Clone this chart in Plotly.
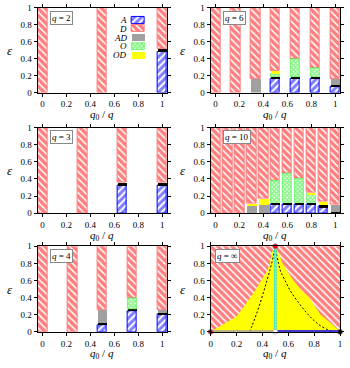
import plotly.graph_objects as go

# --- data: each bar is a stack of (phase, upper edge) from eps = 0 upwards ---
# phases: A, D, AD, O, OD; "K" is the thin black boundary layer
Q2_X = [0, 0.5, 1]
Q2_STACKS = [
    [("D", 1.0)],
    [("D", 1.0)],
    [("A", 0.475), ("K", 0.52), ("D", 1.0)],
]

Q6_X = [0, 1 / 6, 2 / 6, 3 / 6, 4 / 6, 5 / 6, 1]
Q6_STACKS = [
    [("D", 1.0)],
    [("D", 1.0)],
    [("AD", 0.16), ("D", 1.0)],
    [("A", 0.165), ("K", 0.18), ("O", 0.22), ("OD", 0.25), ("D", 1.0)],
    [("A", 0.165), ("K", 0.18), ("O", 0.40), ("D", 1.0)],
    [("A", 0.165), ("K", 0.18), ("O", 0.287), ("D", 1.0)],
    [("A", 0.07), ("K", 0.09), ("AD", 0.165), ("D", 1.0)],
]

Q3_X = [0, 1 / 3, 2 / 3, 1]
Q3_STACKS = [
    [("D", 1.0)],
    [("D", 1.0)],
    [("A", 0.32), ("K", 0.355), ("D", 1.0)],
    [("A", 0.32), ("K", 0.355), ("D", 1.0)],
]

Q10_X = [0, 0.1, 0.2, 0.3, 0.4, 0.5, 0.6, 0.7, 0.8, 0.9, 1.0]
Q10_STACKS = [
    [("D", 1.0)],
    [("D", 1.0)],
    [("D", 1.0)],
    [("AD", 0.09), ("OD", 0.115), ("D", 1.0)],
    [("AD", 0.10), ("OD", 0.172), ("D", 1.0)],
    [("A", 0.095), ("K", 0.12), ("O", 0.385), ("D", 1.0)],
    [("A", 0.095), ("K", 0.12), ("O", 0.46), ("D", 1.0)],
    [("A", 0.095), ("K", 0.12), ("O", 0.405), ("D", 1.0)],
    [("A", 0.095), ("K", 0.12), ("O", 0.227), ("OD", 0.24), ("D", 1.0)],
    [("A", 0.075), ("K", 0.095), ("OD", 0.135), ("D", 1.0)],
    [("K", 0.015), ("AD", 0.10), ("D", 1.0)],
]

Q4_X = [0, 0.25, 0.5, 0.75, 1]
Q4_STACKS = [
    [("D", 1.0)],
    [("D", 1.0)],
    [("A", 0.08), ("K", 0.10), ("AD", 0.25), ("D", 1.0)],
    [("A", 0.245), ("K", 0.265), ("O", 0.39), ("D", 1.0)],
    [("A", 0.20), ("K", 0.22), ("AD", 0.25), ("D", 1.0)],
]

# q = infinity: boundary of the OD (yellow) region, dashed curves, edges
OD_LEFT_X = [0.0, 0.1, 0.2, 0.26, 0.31, 0.343, 0.39, 0.437, 0.458, 0.475, 0.5]
OD_LEFT_Y = [0.0, 0.085, 0.18, 0.3, 0.41, 0.48, 0.6, 0.71, 0.8, 0.94, 1.0]
OD_RIGHT_X = [0.5, 0.52, 0.55, 0.59, 0.64, 0.705, 0.756, 0.8, 0.85, 0.93, 1.0]
OD_RIGHT_Y = [1.0, 0.94, 0.82, 0.71, 0.6, 0.48, 0.41, 0.31, 0.2, 0.1, 0.0]
DASH_LEFT_X = [0.3, 0.32, 0.345, 0.375, 0.412, 0.435, 0.456, 0.475, 0.49, 0.5]
DASH_LEFT_Y = [0.0, 0.07, 0.17, 0.3, 0.48, 0.6, 0.71, 0.82, 0.93, 1.0]
DASH_RIGHT_X = [0.5, 0.51, 0.525, 0.54, 0.575, 0.616, 0.68, 0.743, 0.8, 0.86, 0.92, 0.95]
DASH_RIGHT_Y = [1.0, 0.9, 0.8, 0.71, 0.6, 0.48, 0.34, 0.22, 0.13, 0.06, 0.015, 0.0]
O_LINE_X = 0.5
AD_EDGE_X = [0.0, 0.5]
A_EDGE_X = [0.5, 1.0]
POINTS_X = [0.0, 0.5, 0.5, 1.0]
POINTS_Y = [0.0, 1.0, 0.0, 0.0]
POINTS_C = ["#ff0000", "#ff0000", "white", "black"]

LEGEND_KINDS = ["A", "D", "AD", "O", "OD"]

FONT = "Liberation Serif"
RED = "#ff0000"
BLUE = "#0000ff"

D_PATTERN = dict(shape="\\", fgcolor=RED, bgcolor="white", size=5, solidity=0.7)

STYLE = {
    "D": dict(color="white", line=dict(color="#ff7a7a", width=1), pattern=D_PATTERN),
    "A": dict(color="white", line=dict(color=BLUE, width=1),
              pattern=dict(shape="/", fgcolor=BLUE, bgcolor="white", size=5, solidity=0.6)),
    "AD": dict(color="#a0a0a0", line=dict(width=0)),
    "O": dict(color="white", line=dict(color="#22ee22", width=0.5),
              pattern=dict(shape="x", fgcolor="#11ee11", bgcolor="white", size=3, solidity=0.75)),
    "OD": dict(color="#ffff00", line=dict(width=0)),
    "K": dict(color="black", line=dict(width=0)),
}

# panel layout (paper coords)
COLS = [(0.103, 0.477), (0.603, 0.977)]
ROWS = [(0.7554, 0.9918), (0.4185, 0.6576), (0.0870, 0.3261)]
XTITLE_Y = [1 - 113 / 368, 1 - 237 / 368, 1 - 359 / 368]

fig = go.Figure()

panels = [
    (1, Q2_X, Q2_STACKS),
    (2, Q6_X, Q6_STACKS),
    (3, Q3_X, Q3_STACKS),
    (4, Q10_X, Q10_STACKS),
    (5, Q4_X, Q4_STACKS),
]

BAR_W = 0.08


def ax(n):
    return ("x" if n == 1 else f"x{n}"), ("y" if n == 1 else f"y{n}")


for n, xs, stacks in panels:
    xa, ya = ax(n)
    for kind in ["D", "A", "K", "AD", "O", "OD"]:
        px, pb, ph = [], [], []
        for x, stack in zip(xs, stacks):
            lo = 0.0
            for k, top in stack:
                if k == kind:
                    px.append(x)
                    pb.append(lo)
                    ph.append(top - lo)
                lo = top
        if px:
            fig.add_trace(go.Bar(x=px, y=ph, base=pb, width=BAR_W, marker=STYLE[kind],
                                 xaxis=xa, yaxis=ya, showlegend=False, hoverinfo="skip"))

# hand-made legend inside the q = 2 panel
LEG_X = 0.797
LEG_W = 0.106
LEG_TOP = 0.897
LEG_STEP = 0.103
LEG_H = 0.082
for i, kind in enumerate(LEGEND_KINDS):
    top = LEG_TOP - i * LEG_STEP
    fig.add_trace(go.Bar(x=[LEG_X], y=[LEG_H], base=[top - LEG_H], width=LEG_W,
                         marker=STYLE[kind], xaxis="x", yaxis="y",
                         showlegend=False, hoverinfo="skip"))
    fig.add_annotation(x=LEG_X - LEG_W / 2 - 0.025, y=top - LEG_H / 2, xref="x", yref="y",
                       text=f"<i>{kind}</i>", showarrow=False, xanchor="right", yanchor="middle",
                       font=dict(family=FONT, size=9, color="black"))

# q = infinity panel
xa, ya = ax(6)
fig.add_trace(go.Bar(x=[0.5], y=[1.0], base=[0.0], width=1.0,
                     marker=dict(color="white", line=dict(width=0), pattern=D_PATTERN),
                     xaxis=xa, yaxis=ya, showlegend=False, hoverinfo="skip"))
fig.add_trace(go.Scatter(x=OD_LEFT_X + OD_RIGHT_X[1:], y=OD_LEFT_Y + OD_RIGHT_Y[1:],
                         fill="toself", fillcolor="#ffff00", mode="lines",
                         line=dict(width=0, color="#ffff00"),
                         xaxis=xa, yaxis=ya, showlegend=False, hoverinfo="skip"))
for dx, dy in [(DASH_LEFT_X, DASH_LEFT_Y), (DASH_RIGHT_X, DASH_RIGHT_Y)]:
    fig.add_trace(go.Scatter(x=dx, y=dy, mode="lines",
                             line=dict(color="black", width=1, dash="2px,2px", shape="spline"),
                             xaxis=xa, yaxis=ya, showlegend=False, hoverinfo="skip"))
fig.add_trace(go.Scatter(x=[O_LINE_X, O_LINE_X], y=[0, 1], mode="lines",
                         line=dict(color="#33dddd", width=2.5),
                         xaxis=xa, yaxis=ya, showlegend=False, hoverinfo="skip"))
fig.add_trace(go.Scatter(x=[O_LINE_X, O_LINE_X], y=[0, 1], mode="lines",
                         line=dict(color="#99ff99", width=1.2, dash="2px,1px"),
                         xaxis=xa, yaxis=ya, showlegend=False, hoverinfo="skip"))
fig.add_trace(go.Scatter(x=AD_EDGE_X, y=[0, 0], mode="lines", line=dict(color="#a0a0a0", width=3),
                         cliponaxis=False, xaxis=xa, yaxis=ya, showlegend=False, hoverinfo="skip"))
fig.add_trace(go.Scatter(x=A_EDGE_X, y=[0, 0], mode="lines", line=dict(color=BLUE, width=3),
                         cliponaxis=False, xaxis=xa, yaxis=ya, showlegend=False, hoverinfo="skip"))
fig.add_trace(go.Scatter(x=POINTS_X, y=POINTS_Y, mode="markers",
                         marker=dict(color=POINTS_C, size=5, line=dict(color="#888888", width=0.5)),
                         cliponaxis=False, xaxis=xa, yaxis=ya, showlegend=False, hoverinfo="skip"))

# axes
labels = {1: "2", 2: "6", 3: "3", 4: "10", 5: "4", 6: "∞"}
for n in range(1, 7):
    r, c = (n - 1) // 2, (n - 1) % 2
    xr = [0, 1] if n == 6 else [-0.04, 1.04]
    common = dict(showline=True, linecolor="black", linewidth=1, mirror="ticks",
                  ticks="outside", ticklen=3, tickcolor="black", dtick=0.2,
                  showgrid=False, zeroline=False,
                  tickfont=dict(family=FONT, size=9, color="black"))
    xkey = "xaxis" if n == 1 else f"xaxis{n}"
    ykey = "yaxis" if n == 1 else f"yaxis{n}"
    fig.update_layout({
        xkey: dict(domain=list(COLS[c]), range=xr, anchor=ax(n)[1], tick0=0, **common),
        ykey: dict(domain=list(ROWS[r]), range=[0, 1], anchor=ax(n)[0], tick0=0, **common),
    })
    xa, ya = ax(n)
    fig.add_annotation(x=0.03 if n == 6 else 0.065, y=0.885, xref=xa, yref=ya,
                       xanchor="left", yanchor="middle",
                       text=f"<i>q</i> = {labels[n]}", showarrow=False,
                       font=dict(family=FONT, size=9, color="black"),
                       bgcolor="white", bordercolor="#888888", borderwidth=1, borderpad=1)
    fig.add_annotation(x=sum(COLS[c]) / 2, y=XTITLE_Y[r], xref="paper", yref="paper",
                       xanchor="center", yanchor="middle",
                       text="<i>q</i><sub>0</sub> / <i>q</i>", showarrow=False,
                       font=dict(family=FONT, size=11, color="black"))
    fig.add_annotation(x=(8 if c == 0 else 183) / 350, y=sum(ROWS[r]) / 2, xref="paper", yref="paper",
                       xanchor="center", yanchor="middle",
                       text="<i>ε</i>", showarrow=False,
                       font=dict(family=FONT, size=13, color="black"))

fig.update_layout(width=350, height=368, margin=dict(l=0, r=0, t=0, b=0),
                  barmode="overlay", bargap=0, plot_bgcolor="white", paper_bgcolor="white",
                  showlegend=False)

fig.write_html("out.html", config={"displayModeBar": False},
               post_script="document.body.style.margin='0';")
